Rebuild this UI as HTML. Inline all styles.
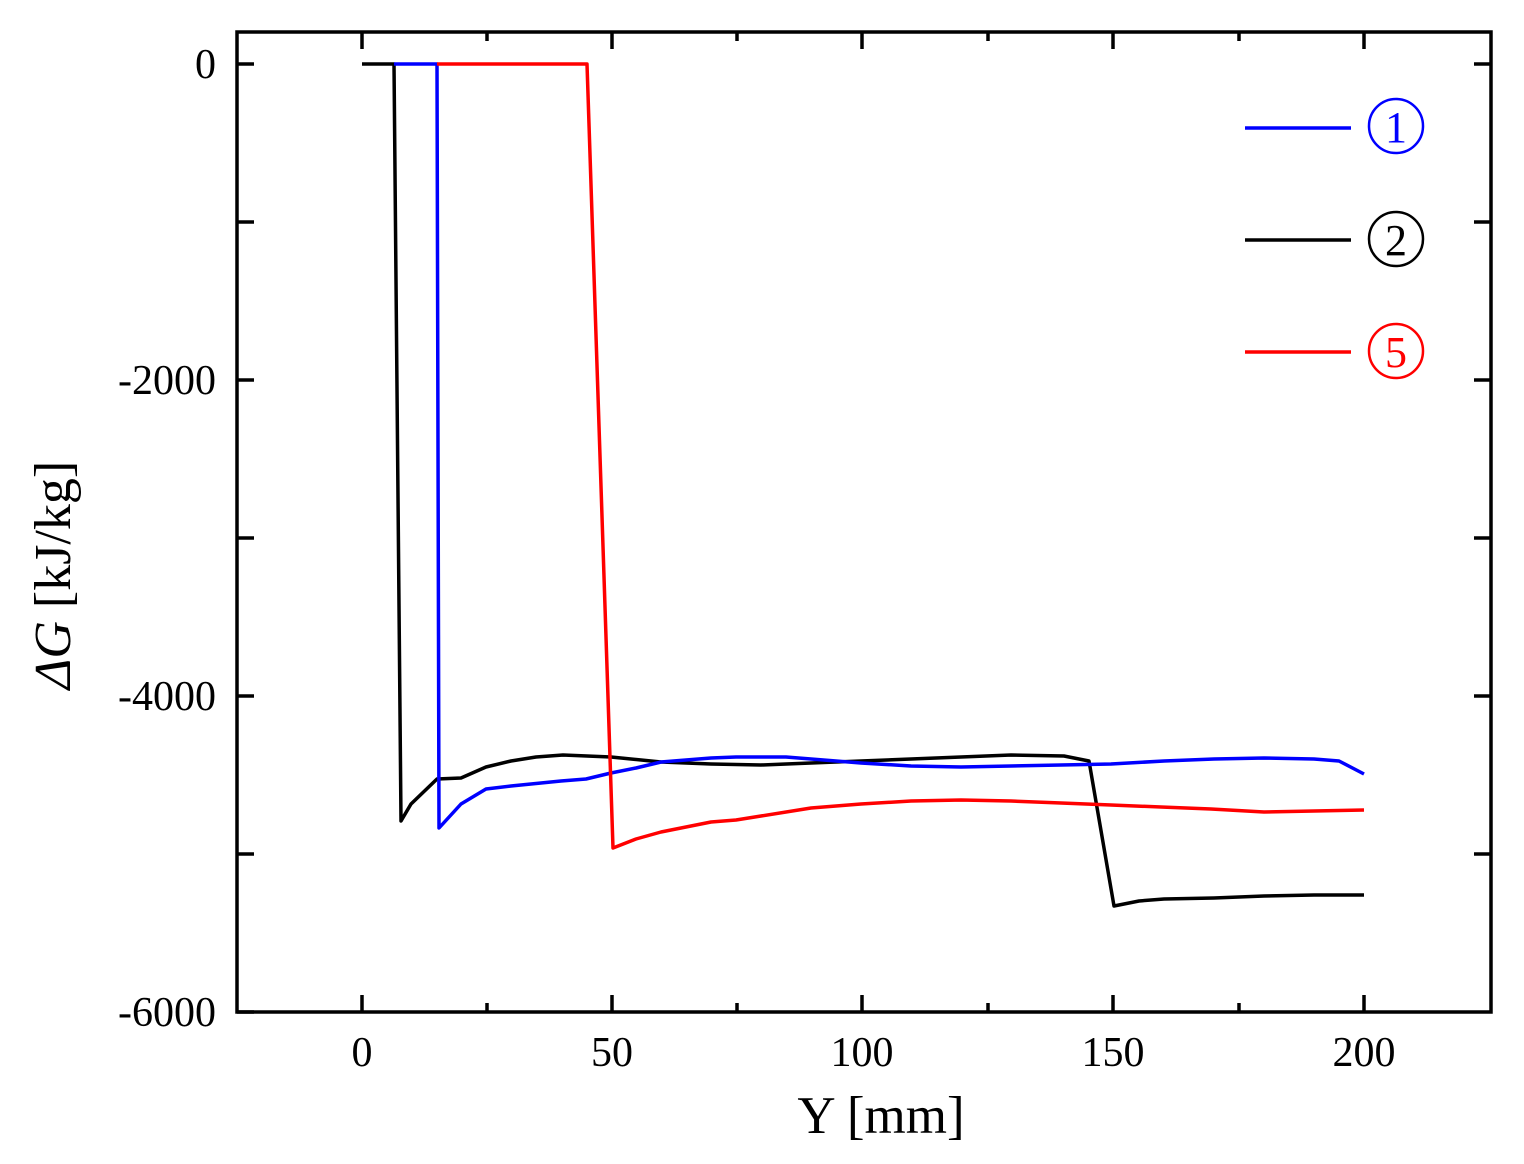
<!DOCTYPE html>
<html><head><style>body{margin:0;background:#fff}svg{display:block}</style></head><body>
<svg width="1524" height="1164" xmlns="http://www.w3.org/2000/svg" font-family="Liberation Serif, serif">
<g stroke="#000" stroke-width="3.5" fill="none">
<rect x="237" y="32" width="1254" height="980"/>
<path d="M362 1012v-17M612 1012v-17M862 1012v-17M1113 1012v-17M1364 1012v-17M487 1012v-9M737 1012v-9M988 1012v-9M1239 1012v-9
M362 32v17M612 32v17M862 32v17M1113 32v17M1364 32v17M487 32v9M737 32v9M988 32v9M1239 32v9
M237 64h17M237 222h17M237 380h17M237 538h17M237 696h17M237 854h17M237 1012h17
M1491 64h-17M1491 222h-17M1491 380h-17M1491 538h-17M1491 696h-17M1491 854h-17"/>
</g>
<g fill="none" stroke-width="3.5" stroke-linejoin="round">
<polyline stroke="#000" points="362,64 394,64 401,821 411,804 437,779 461,778 486,767 511,761 536,757 563,755 611,757 661,762 711,764 761,765 811,763 861,761 911,759 961,757 1011,755 1064,756 1089,761 1114,906 1139,901 1164,899 1214,898 1264,896 1314,895 1364,895"/>
<polyline stroke="#00f" points="394,64 437,64 439,828 461,804 486,789 511,786 561,781 586,779 611,773 636,768 661,762 711,758 736,757 761,757 786,757 811,759 861,763 911,766 961,767 1011,766 1061,765 1111,764 1164,761 1214,759 1264,758 1314,759 1339,761 1364,774"/>
<polyline stroke="#f00" points="437,64 587,64 613,848 636,839 661,832 711,822 736,820 761,816 811,808 861,804 911,801 961,800 1011,801 1061,803 1111,805 1161,807 1211,809 1264,812 1314,811 1364,810"/>
<line x1="1245" y1="128" x2="1351" y2="128" stroke="#00f"/>
<line x1="1245" y1="240" x2="1351" y2="240" stroke="#000"/>
<line x1="1245" y1="352" x2="1351" y2="352" stroke="#f00"/>
<circle cx="1396" cy="126" r="27" stroke="#00f" stroke-width="2.5"/>
<circle cx="1396" cy="239" r="27" stroke="#000" stroke-width="2.5"/>
<circle cx="1396" cy="351" r="27" stroke="#f00" stroke-width="2.5"/>
</g>
<g font-size="44" text-anchor="middle">
<text x="1396" y="142" fill="#00f">1</text>
<text x="1396" y="255" fill="#000">2</text>
<text x="1396" y="367" fill="#f00">5</text>
</g>
<g font-size="42" text-anchor="middle">
<text x="362" y="1066">0</text><text x="612" y="1066">50</text><text x="862" y="1066">100</text><text x="1113" y="1066">150</text><text x="1364" y="1066">200</text>
</g>
<g font-size="42" text-anchor="end">
<text x="216" y="78">0</text><text x="216" y="394">-2000</text><text x="216" y="710">-4000</text><text x="216" y="1026">-6000</text>
</g>
<text x="881" y="1133" font-size="53" text-anchor="middle">Y [mm]</text>
<text transform="translate(70,575) rotate(-90)" font-size="52" text-anchor="middle"><tspan font-style="italic">ΔG</tspan> [kJ/kg]</text>
</svg>
</body></html>
